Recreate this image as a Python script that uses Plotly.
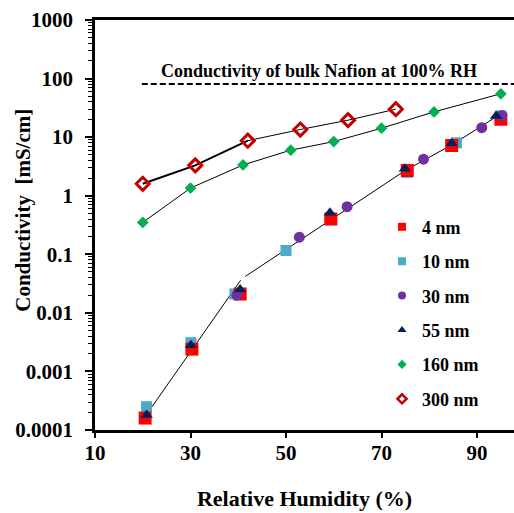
import plotly.graph_objects as go

# ---- data ----
x_4nm = [20.5, 30.3, 40.4, 59.4, 75.4, 84.7, 95.0]
y_4nm = [0.00016, 0.0024, 0.021, 0.40, 2.7, 7.2, 20.2]

x_10nm = [20.8, 30.1, 39.3, 50.0, 59.2, 75.4, 85.7, 95.0]
y_10nm = [0.00025, 0.0031, 0.021, 0.116, 0.39, 2.5, 8.0, 23.0]

x_30nm = [39.7, 52.8, 62.8, 78.8, 91.0, 95.2]
y_30nm = [0.020, 0.196, 0.65, 4.2, 14.5, 23.5]

x_55nm = [20.8, 30.1, 40.4, 59.2, 74.9, 84.7, 94.0]
y_55nm = [0.00018, 0.0028, 0.025, 0.51, 2.9, 7.9, 23.0]

x_160nm = [20.0, 30.0, 41.0, 51.0, 60.0, 70.0, 81.0, 95.0]
y_160nm = [0.35, 1.35, 3.35, 6.0, 8.4, 14.2, 27.0, 55.0]

x_300nm = [20.0, 31.0, 42.0, 53.0, 63.0, 73.0]
y_300nm = [1.6, 3.3, 8.7, 13.5, 19.5, 30.0]

# trend line through the thin films (two segments)
trend_x1 = [20.5, 40.5]
trend_y1 = [0.00017, 0.036]
trend_x2 = [41.5, 50.0, 60.0, 75.0, 85.0, 95.0]
trend_y2 = [0.042, 0.12, 0.42, 2.7, 7.6, 25.0]

bulk_x = [19.8, 100.0]
bulk_y = [81.0, 81.0]
bulk_label = "Conductivity of bulk Nafion at 100% RH"

x_ticks = [10, 30, 50, 70, 90]
y_ticks = [0.0001, 0.001, 0.01, 0.1, 1, 10, 100, 1000]
y_tick_text = ["0.0001", "0.001", "0.01", "0.1", "1", "10", "100", "1000"]

FONT = "Liberation Serif"

fig = go.Figure()

# lines
line_style = dict(color="black", width=1)
for xs, ys in [(trend_x1, trend_y1), (trend_x2, trend_y2), (x_160nm, y_160nm)]:
    fig.add_trace(go.Scatter(x=xs, y=ys, mode="lines", line=line_style,
                             showlegend=False, hoverinfo="skip"))
fig.add_trace(go.Scatter(x=x_300nm[:3], y=y_300nm[:3], mode="lines",
                         line=dict(color="black", width=2), showlegend=False, hoverinfo="skip"))
fig.add_trace(go.Scatter(x=x_300nm[2:], y=y_300nm[2:], mode="lines",
                         line=line_style, showlegend=False, hoverinfo="skip"))
fig.add_trace(go.Scatter(x=bulk_x, y=bulk_y, mode="lines",
                         line=dict(color="black", width=2, dash="6px,3px"),
                         showlegend=False, hoverinfo="skip"))

series = [
    ("10 nm", x_10nm, y_10nm, dict(symbol="square", size=11, color="#4BACC6"), 2,
     dict(symbol="square", size=8, color="#4BACC6")),
    ("4 nm", x_4nm, y_4nm, dict(symbol="square", size=13, color="#FF0000"), 1,
     dict(symbol="square", size=8, color="#FF0000")),
    ("30 nm", x_30nm, y_30nm, dict(symbol="circle", size=11, color="#7030A0"), 3,
     dict(symbol="circle", size=8, color="#7030A0")),
    ("55 nm", x_55nm, y_55nm, dict(symbol="triangle-up", size=11, color="#002060"), 4,
     dict(symbol="triangle-up", size=8, color="#002060")),
    ("160 nm", x_160nm, y_160nm, dict(symbol="diamond", size=9, color="#00B050"), 5,
     dict(symbol="diamond", size=7, color="#00B050")),
    ("300 nm", x_300nm, y_300nm, dict(symbol="diamond-open", size=10, color="#C00000",
                                       line=dict(width=3, color="#C00000")), 6,
     dict(symbol="diamond-open", size=7, color="#C00000", line=dict(width=2.5, color="#C00000"))),
]
for name, xs, ys, mk, rank, lmk in series:
    fig.add_trace(go.Scatter(x=xs, y=ys, mode="markers", name=name, marker=mk,
                             showlegend=False))
for name, xs, ys, mk, rank, lmk in series:
    fig.add_trace(go.Scatter(x=[None], y=[None], mode="markers", name=name, marker=lmk,
                             legendrank=rank, legendgroup=name, showlegend=True))

fig.add_annotation(x=57, y=1.908, xref="x", yref="y", text=bulk_label,
                   showarrow=False, yanchor="bottom", yshift=1,
                   font=dict(family=FONT, size=18, color="black", weight="bold"))

# y-axis title placed as a rotated annotation (sits closer to the tick labels)
fig.add_annotation(x=-0.172, y=0.537, xref="paper", yref="paper",
                   text="Conductivity  [mS/cm]", textangle=-90, showarrow=False,
                   xanchor="center", yanchor="middle",
                   font=dict(family=FONT, size=21, color="black", weight="bold"))

fig.update_layout(
    width=514, height=513,
    margin=dict(l=95, r=0, t=20, b=83),
    paper_bgcolor="white", plot_bgcolor="white",
    font=dict(family=FONT, color="black", size=18, weight="bold"),
    legend=dict(x=0.685, y=0.54, xanchor="left", yanchor="top",
                font=dict(family=FONT, size=18, weight="bold"),
                tracegroupgap=8, traceorder="grouped", itemwidth=30,
                bgcolor="rgba(0,0,0,0)"),
    xaxis=dict(range=[10, 97.75], tickvals=x_ticks, ticks="outside", ticklen=5,
               tickwidth=1.5, tickcolor="black", showline=True, linewidth=2.5,
               linecolor="black", mirror=True, showgrid=False, zeroline=False,
               automargin=False, ticklabelstandoff=-3,
               tickfont=dict(family=FONT, size=21, weight="bold"),
               title=dict(text="Relative Humidity (%)", standoff=27,
                          font=dict(family=FONT, size=22, weight="bold"))),
    yaxis=dict(type="log", range=[-4, 3], tickvals=y_ticks, ticktext=y_tick_text,
               ticks="outside", ticklen=7, tickwidth=1.5, tickcolor="black",
               minor=dict(ticks="outside", ticklen=4, tickwidth=1, tickcolor="black",
                          dtick="D1", showgrid=False),
               showline=True, linewidth=2.5, linecolor="black", showgrid=False,
               zeroline=False, automargin=False, ticklabelstandoff=8,
               tickfont=dict(family=FONT, size=21, weight="bold")),
)

fig.write_html("out.html", config={"displayModeBar": False},
               post_script="document.body.style.margin='0';")
